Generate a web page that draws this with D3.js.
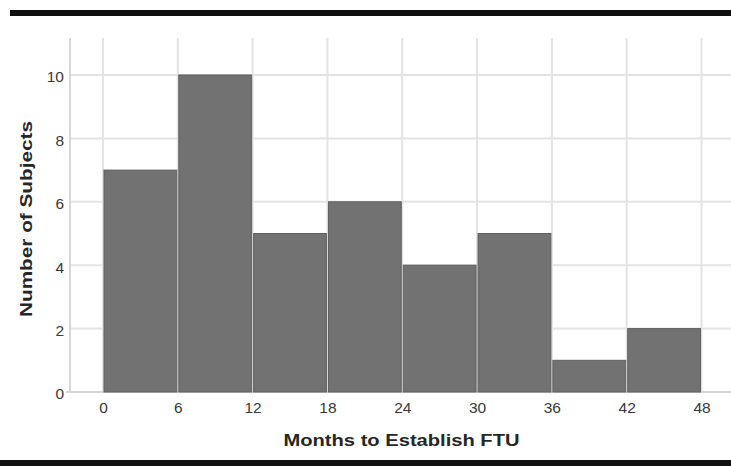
<!DOCTYPE html>
<html><head><meta charset="utf-8">
<script src="https://cdn.jsdelivr.net/npm/d3@7"></script>
<style>
html,body{margin:0;padding:0;background:#fff;}
svg{display:block;font-family:"Liberation Sans",Arial,sans-serif;}
</style></head>
<body>
<svg id="chart" width="731" height="466"></svg>
<script>
const binStarts = [0, 6, 12, 18, 24, 30, 36, 42];
const binWidth = 6;
const counts = [7, 10, 5, 6, 4, 5, 1, 2];
const xTicks = [0, 6, 12, 18, 24, 30, 36, 42, 48];
const yTicks = [0, 2, 4, 6, 8, 10];
const xTitle = "Months to Establish FTU";
const yTitle = "Number of Subjects";

const svg = d3.select("#chart");
const W = 731, H = 466;
const plotLeft = 70, plotRight = 731, plotTop = 38, plotBottom = 392;

const x = d3.scaleLinear().domain([0, 48]).range([103, 701.5]);
const y = d3.scaleLinear().domain([0, 10]).range([392, 75]);

// frame bars
svg.append("rect").attr("x", 10).attr("y", 10).attr("width", W - 10).attr("height", 6).attr("fill", "#111");
svg.append("rect").attr("x", 0).attr("y", 460).attr("width", W).attr("height", 6).attr("fill", "#111");

// gridlines
const grid = svg.append("g");
grid.selectAll("line.h").data(yTicks.filter(d => d > 0)).join("line")
  .attr("x1", plotLeft).attr("x2", plotRight)
  .attr("y1", d => y(d)).attr("y2", d => y(d))
  .attr("stroke", "#e3e3e3").attr("stroke-width", 2);
grid.selectAll("line.v").data(xTicks).join("line")
  .attr("y1", plotTop).attr("y2", plotBottom)
  .attr("x1", d => x(d)).attr("x2", d => x(d))
  .attr("stroke", "#e3e3e3").attr("stroke-width", 2);

// axes lines
svg.append("line").attr("x1", plotLeft).attr("x2", plotLeft).attr("y1", plotTop).attr("y2", plotBottom)
  .attr("stroke", "#d6d6d6").attr("stroke-width", 2);
svg.append("line").attr("x1", plotLeft - 4).attr("x2", plotRight).attr("y1", plotBottom).attr("y2", plotBottom)
  .attr("stroke", "#d6d6d6").attr("stroke-width", 2);

// bars
svg.append("g").selectAll("rect").data(binStarts).join("rect")
  .attr("x", (d) => x(d) + 1)
  .attr("width", d => x(d + binWidth) - x(d) - 2)
  .attr("y", (d, i) => y(counts[i]))
  .attr("height", (d, i) => y(0) - y(counts[i]))
  .attr("fill", "#727272")
  .attr("stroke", "#5f5f5f")
  .attr("stroke-width", 1);

const FONT = '"Liberation Sans",Arial,sans-serif';

// x axis
const xAxis = d3.axisBottom(x).tickValues(xTicks).tickSize(0).tickPadding(10);
const gx = svg.append("g").attr("transform", `translate(0,${plotBottom})`).call(xAxis);
gx.select(".domain").remove();
gx.selectAll("text").attr("font-size", 15.5).attr("fill", "#383838").attr("font-family", FONT);

// y axis
const yAxis = d3.axisLeft(y).tickValues(yTicks).tickSize(0).tickPadding(6);
const gy = svg.append("g").attr("transform", `translate(${plotLeft},0)`).call(yAxis);
gy.select(".domain").remove();
gy.selectAll("text").attr("font-size", 15.5).attr("fill", "#383838").attr("font-family", FONT)
  .attr("dy", "0.45em");

// titles
svg.append("text").attr("x", 401.5).attr("y", 446).attr("text-anchor", "middle")
  .attr("font-size", 16).attr("font-weight", "bold").attr("fill", "#262626")
  .attr("textLength", 236).attr("lengthAdjust", "spacingAndGlyphs").text(xTitle);
svg.append("text").attr("transform", `translate(32,${219}) rotate(-90)`).attr("text-anchor", "middle")
  .attr("font-size", 16).attr("font-weight", "bold").attr("fill", "#262626")
  .attr("textLength", 196).attr("lengthAdjust", "spacingAndGlyphs").text(yTitle);
</script>
</body></html>
